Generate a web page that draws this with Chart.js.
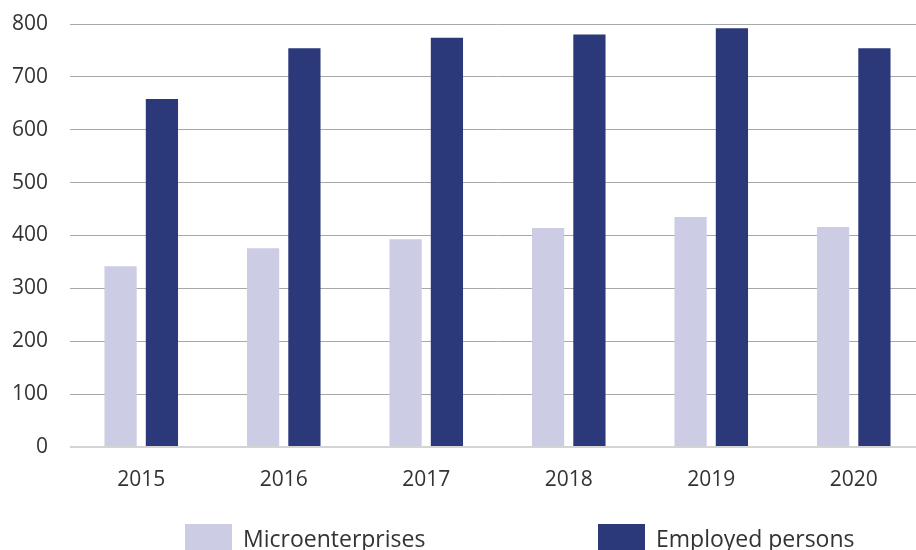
<!DOCTYPE html>
<html>
<head>
<meta charset="utf-8">
<script src="https://cdn.jsdelivr.net/npm/chart.js@4/dist/chart.umd.min.js"></script>
<style>
	html, body { margin:0; padding:0; background:#fff; overflow:hidden; }
	#wrap { position:relative; width:916px; height:550px; overflow:hidden; }
	#chart { position:absolute; left:0; top:0; }
	#legend { position:absolute; left:185px; top:524px; display:flex; font-family:"Open Sans", sans-serif; font-size:23px; color:#333; }
	#legend .item { width:413px; display:flex; align-items:flex-start; }
	#legend .box { width:47px; height:30px; margin-right:11px; }
	#legend .txt { line-height:26px; margin-top:1px; }
</style>
</head>
<body>
<div id="wrap">
	<canvas id="chart" width="925" height="550"></canvas>
	<div id="legend"></div>
</div>
<script>
var years = ["2015","2016","2017","2018","2019","2020"];
var micro = [342, 376, 393, 414, 435, 416];
var employed = [658, 754, 774, 780, 792, 754];
var seriesNames = ["Microenterprises", "Employed persons"];
var seriesColors = ["#cccde4", "#2b387a"];

var fontFam = '"Open Sans", sans-serif';

var myChart = new Chart($("chart"), {
	type: 'bar',
	data: {
		labels: years,
		datasets: [{
			label: seriesNames[0],
			data: micro,
			backgroundColor: seriesColors[0],
			barPercentage: 0.78,
			categoryPercentage: 0.58
		},{
			label: seriesNames[1],
			data: employed,
			backgroundColor: seriesColors[1],
			barPercentage: 0.78,
			categoryPercentage: 0.58
		}]
	},
	options: {
		responsive: false,
		animation: false,
		layout: { padding: { top: 24, right: 0, left: 0, bottom: 0 } },
		plugins: {
			legend: { display: false },
			tooltip: { enabled: false }
		},
		scales: {
			x: {
				grid: { display: false },
				border: { display: false },
				ticks: { color: '#333', padding: 12, font: { family: fontFam, size: 21 } },
				afterFit: function (scale) { scale.height = 103; }
			},
			y: {
				min: 0,
				max: 800,
				border: { display: false },
				grid: {
					drawTicks: false,
					color: function (c) { return c.tick && c.tick.value === 0 ? '#d4d4d4' : '#a8a8a8'; },
					lineWidth: function (c) { return c.tick && c.tick.value === 0 ? 2 : 1; }
				},
				ticks: { stepSize: 100, color: '#333', padding: 22, font: { family: fontFam, size: 21 } },
				afterFit: function (scale) {
					scale.width = 70;
					scale.paddingTop = 0;
				}
			}
		}
	}
});

function $(id) { return document.getElementById(id); }

// legend built from the series arrays
var leg = $("legend");
for (var i = 0; i < seriesNames.length; i++) {
	var item = document.createElement("div");
	item.className = "item";
	item.innerHTML = '<div class="box" style="background:' + seriesColors[i] + '"></div><div class="txt">' + seriesNames[i] + '</div>';
	leg.appendChild(item);
}
</script>
</body>
</html>
